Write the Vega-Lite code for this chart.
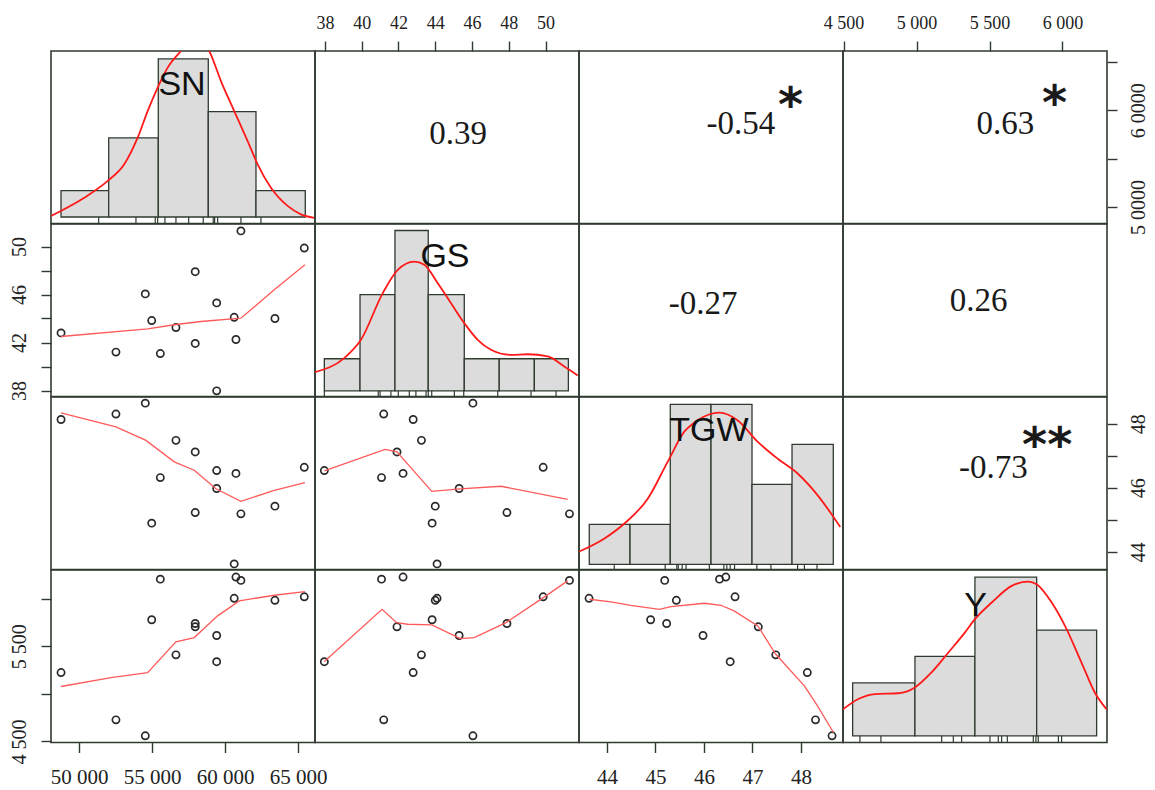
{
"$schema":"https://vega.github.io/schema/vega-lite/v6.json",
"background":"white",
"padding":{"left":8,"top":13,"right":2,"bottom":2},
"columns":4,"spacing":0,"bounds":"flush",
"datasets":{
"obs":[
{"id":"A","SN":59430,"GS":37.97,"TGW":46.54,"Y":5337},
{"id":"B","SN":52530,"GS":41.2,"TGW":48.3,"Y":4727},
{"id":"C","SN":55570,"GS":41.08,"TGW":46.32,"Y":6203},
{"id":"D","SN":57960,"GS":41.92,"TGW":47.12,"Y":5703},
{"id":"E","SN":60750,"GS":42.25,"TGW":46.45,"Y":6225},
{"id":"F","SN":48770,"GS":42.8,"TGW":48.13,"Y":5223},
{"id":"G","SN":56640,"GS":43.25,"TGW":47.48,"Y":5409},
{"id":"H","SN":54980,"GS":43.83,"TGW":44.9,"Y":5777},
{"id":"I","SN":63420,"GS":44.0,"TGW":45.43,"Y":5981},
{"id":"J","SN":60630,"GS":44.1,"TGW":43.63,"Y":6002},
{"id":"K","SN":59430,"GS":45.3,"TGW":45.98,"Y":5612},
{"id":"L","SN":54540,"GS":46.05,"TGW":48.64,"Y":4560},
{"id":"M","SN":57960,"GS":47.9,"TGW":45.23,"Y":5738},
{"id":"N","SN":65430,"GS":49.87,"TGW":46.64,"Y":6018},
{"id":"O","SN":61090,"GS":51.3,"TGW":45.19,"Y":6190}],
"smooth":[
{"pair":"GS~SN","SN":48765,"GS":42.5},{"pair":"GS~SN","SN":54702,"GS":43.14},{"pair":"GS~SN","SN":56524,"GS":43.48},{"pair":"GS~SN","SN":58352,"GS":43.75},{"pair":"GS~SN","SN":61091,"GS":44.03},{"pair":"GS~SN","SN":63372,"GS":46.39},{"pair":"GS~SN","SN":65474,"GS":48.48},
{"pair":"TGW~SN","SN":48765,"TGW":48.34},{"pair":"TGW~SN","SN":52531,"TGW":47.9},{"pair":"TGW~SN","SN":54586,"TGW":47.48},{"pair":"TGW~SN","SN":56524,"TGW":46.81},{"pair":"TGW~SN","SN":57893,"TGW":46.55},{"pair":"TGW~SN","SN":59379,"TGW":45.97},{"pair":"TGW~SN","SN":61091,"TGW":45.58},{"pair":"TGW~SN","SN":63372,"TGW":45.92},{"pair":"TGW~SN","SN":65474,"TGW":46.16},
{"pair":"Y~SN","SN":48765,"Y":5077},{"pair":"Y~SN","SN":52189,"Y":5171},{"pair":"Y~SN","SN":54702,"Y":5223},{"pair":"Y~SN","SN":56640,"Y":5545},{"pair":"Y~SN","SN":57893,"Y":5590},{"pair":"Y~SN","SN":59495,"Y":5818},{"pair":"Y~SN","SN":60975,"Y":5975},{"pair":"Y~SN","SN":63372,"Y":6034},{"pair":"Y~SN","SN":65474,"Y":6072},
{"pair":"TGW~GS","GS":37.97,"TGW":46.53},{"pair":"TGW~GS","GS":41.27,"TGW":47.2},{"pair":"TGW~GS","GS":41.92,"TGW":47.12},{"pair":"TGW~GS","GS":43.81,"TGW":45.89},{"pair":"TGW~GS","GS":45.36,"TGW":45.97},{"pair":"TGW~GS","GS":47.58,"TGW":46.05},{"pair":"TGW~GS","GS":51.2,"TGW":45.64},
{"pair":"Y~GS","GS":37.97,"Y":5339},{"pair":"Y~GS","GS":41.11,"Y":5887},{"pair":"Y~GS","GS":41.9,"Y":5747},{"pair":"Y~GS","GS":42.5,"Y":5730},{"pair":"Y~GS","GS":43.82,"Y":5723},{"pair":"Y~GS","GS":45.36,"Y":5580},{"pair":"Y~GS","GS":46.12,"Y":5590},{"pair":"Y~GS","GS":47.85,"Y":5747},{"pair":"Y~GS","GS":49.88,"Y":6009},{"pair":"Y~GS","GS":51.2,"Y":6185},
{"pair":"Y~TGW","TGW":43.64,"Y":5992},{"pair":"Y~TGW","TGW":44.08,"Y":5964},{"pair":"Y~TGW","TGW":44.49,"Y":5929},{"pair":"Y~TGW","TGW":45.08,"Y":5887},{"pair":"Y~TGW","TGW":45.32,"Y":5915},{"pair":"Y~TGW","TGW":46.01,"Y":5950},{"pair":"Y~TGW","TGW":46.35,"Y":5929},{"pair":"Y~TGW","TGW":46.62,"Y":5870},{"pair":"Y~TGW","TGW":47.11,"Y":5713},{"pair":"Y~TGW","TGW":47.48,"Y":5415},{"pair":"Y~TGW","TGW":48.07,"Y":5084},{"pair":"Y~TGW","TGW":48.34,"Y":4874},{"pair":"Y~TGW","TGW":48.67,"Y":4594}],
"hist":[
{"var":"SN","lo":48767,"hi":52034,"n":1},{"var":"SN","lo":52034,"hi":55431,"n":3},{"var":"SN","lo":55431,"hi":58855,"n":6},{"var":"SN","lo":58855,"hi":62122,"n":4},{"var":"SN","lo":62122,"hi":65499,"n":1},
{"var":"GS","lo":37.97,"hi":39.91,"n":1},{"var":"GS","lo":39.91,"hi":41.81,"n":3},{"var":"GS","lo":41.81,"hi":43.62,"n":5},{"var":"GS","lo":43.62,"hi":45.58,"n":3},{"var":"GS","lo":45.58,"hi":47.48,"n":1},{"var":"GS","lo":47.48,"hi":49.39,"n":1},{"var":"GS","lo":49.39,"hi":51.24,"n":1},
{"var":"TGW","lo":43.635,"hi":44.475,"n":1},{"var":"TGW","lo":44.475,"hi":45.305,"n":1},{"var":"TGW","lo":45.305,"hi":46.145,"n":4},{"var":"TGW","lo":46.145,"hi":46.99,"n":4},{"var":"TGW","lo":46.99,"hi":47.815,"n":2},{"var":"TGW","lo":47.815,"hi":48.666,"n":3},
{"var":"Y","lo":4562,"hi":4989,"n":2},{"var":"Y","lo":4989,"hi":5400,"n":3},{"var":"Y","lo":5400,"hi":5823,"n":6},{"var":"Y","lo":5823,"hi":6234,"n":4}],
"dens":[
{"var":"SN","v":48082,"n":0.04},{"var":"SN","v":50360,"n":0.73},{"var":"SN","v":51963,"n":1.37},{"var":"SN","v":53100,"n":2.0},{"var":"SN","v":54017,"n":3.01},{"var":"SN","v":54702,"n":4.02},{"var":"SN","v":55387,"n":4.91},{"var":"SN","v":56072,"n":5.67},{"var":"SN","v":56982,"n":6.3},{"var":"SN","v":57941,"n":6.85},{"var":"SN","v":58920,"n":6.3},{"var":"SN","v":59722,"n":5.16},{"var":"SN","v":60632,"n":4.02},{"var":"SN","v":61550,"n":2.88},{"var":"SN","v":62235,"n":2.0},{"var":"SN","v":63146,"n":1.11},{"var":"SN","v":64289,"n":0.42},{"var":"SN","v":65200,"n":0.1},{"var":"SN","v":66111,"n":-0.03},
{"var":"GS","v":37.46,"n":0.58},{"var":"GS","v":39.05,"n":1.02},{"var":"GS","v":39.96,"n":1.59},{"var":"GS","v":41.14,"n":3.04},{"var":"GS","v":41.96,"n":3.77},{"var":"GS","v":42.86,"n":4.03},{"var":"GS","v":43.41,"n":3.93},{"var":"GS","v":44.13,"n":3.36},{"var":"GS","v":44.86,"n":2.73},{"var":"GS","v":45.58,"n":2.11},{"var":"GS","v":46.31,"n":1.59},{"var":"GS","v":47.03,"n":1.28},{"var":"GS","v":48.12,"n":1.12},{"var":"GS","v":49.03,"n":1.14},{"var":"GS","v":50.12,"n":1.07},{"var":"GS","v":51.02,"n":0.76},{"var":"GS","v":51.75,"n":0.48},
{"var":"TGW","v":43.41,"n":0.31},{"var":"TGW","v":43.94,"n":0.64},{"var":"TGW","v":44.36,"n":1.02},{"var":"TGW","v":44.84,"n":1.64},{"var":"TGW","v":45.25,"n":2.56},{"var":"TGW","v":45.59,"n":3.31},{"var":"TGW","v":45.87,"n":3.6},{"var":"TGW","v":46.32,"n":3.79},{"var":"TGW","v":46.69,"n":3.6},{"var":"TGW","v":47.11,"n":3.06},{"var":"TGW","v":47.52,"n":2.64},{"var":"TGW","v":47.93,"n":2.27},{"var":"TGW","v":48.34,"n":1.73},{"var":"TGW","v":48.62,"n":1.27},{"var":"TGW","v":48.81,"n":0.93},
{"var":"Y","v":4496,"n":1.0},{"var":"Y","v":4601,"n":1.39},{"var":"Y","v":4715,"n":1.58},{"var":"Y","v":4875,"n":1.61},{"var":"Y","v":4989,"n":1.83},{"var":"Y","v":5103,"n":2.4},{"var":"Y","v":5218,"n":3.15},{"var":"Y","v":5332,"n":3.91},{"var":"Y","v":5400,"n":4.41},{"var":"Y","v":5515,"n":5.04},{"var":"Y","v":5652,"n":5.67},{"var":"Y","v":5766,"n":5.83},{"var":"Y","v":5823,"n":5.73},{"var":"Y","v":5926,"n":5.04},{"var":"Y","v":6017,"n":4.16},{"var":"Y","v":6131,"n":2.76},{"var":"Y","v":6222,"n":1.63},{"var":"Y","v":6303,"n":1.0}],
"rug":[
{"var":"SN","v":51347},{"var":"SN","v":53901},{"var":"SN","v":55222},{"var":"SN","v":55387},{"var":"SN","v":55887},{"var":"SN","v":56640},{"var":"SN","v":57510},{"var":"SN","v":58510},{"var":"SN","v":59194},{"var":"SN","v":59290},{"var":"SN","v":59496},{"var":"SN","v":61091},{"var":"SN","v":62461},
{"var":"GS","v":37.97},{"var":"GS","v":40.9},{"var":"GS","v":41.0},{"var":"GS","v":41.59},{"var":"GS","v":41.99},{"var":"GS","v":42.59},{"var":"GS","v":42.95},{"var":"GS","v":43.5},{"var":"GS","v":43.62},{"var":"GS","v":43.81},{"var":"GS","v":45.04},{"var":"GS","v":45.55},{"var":"GS","v":47.4},{"var":"GS","v":49.21},{"var":"GS","v":50.57},
{"var":"TGW","v":44.15},{"var":"TGW","v":45.2},{"var":"TGW","v":45.44},{"var":"TGW","v":45.47},{"var":"TGW","v":45.55},{"var":"TGW","v":45.63},{"var":"TGW","v":46.11},{"var":"TGW","v":46.41},{"var":"TGW","v":46.47},{"var":"TGW","v":46.54},{"var":"TGW","v":46.63},{"var":"TGW","v":47.09},{"var":"TGW","v":47.38},{"var":"TGW","v":47.93},{"var":"TGW","v":48.07},{"var":"TGW","v":48.33},
{"var":"Y","v":4612},{"var":"Y","v":4756},{"var":"Y","v":5172},{"var":"Y","v":5252},{"var":"Y","v":5309},{"var":"Y","v":5503},{"var":"Y","v":5560},{"var":"Y","v":5583},{"var":"Y","v":5622},{"var":"Y","v":5800},{"var":"Y","v":5818},{"var":"Y","v":5834},{"var":"Y","v":5972},{"var":"Y","v":5994}],
"vars":[{"var":"SN"},{"var":"GS"},{"var":"TGW"},{"var":"Y"}],
"corr":[
{"pair":"SN~GS","r":"0.39","stars":""},
{"pair":"SN~TGW","r":"-0.54","stars":"*"},
{"pair":"SN~Y","r":"0.63","stars":"*"},
{"pair":"GS~TGW","r":"-0.27","stars":""},
{"pair":"GS~Y","r":"0.26","stars":""},
{"pair":"TGW~Y","r":"-0.73","stars":"**"}]
},
"concat":[
{"width":264,"height":172.5,"layer":[
 {"data":{"name":"hist"},"transform":[{"filter":"datum.var == 'SN'"}],"mark":{"type":"rect","fill":"#dcdcdc","stroke":"#2f3b2f","strokeWidth":1.3},
  "encoding":{"x":{"field":"lo","type":"quantitative","scale":{"domain":[48082,66164],"nice":false,"zero":false},"axis":null},"x2":{"field":"hi"},"y":{"field":"n","type":"quantitative","scale":{"domain":[-0.247,6.3],"nice":false,"zero":false},"axis":null},"y2":{"datum":0}}},
 {"data":{"name":"rug"},"transform":[{"filter":"datum.var == 'SN'"}],"mark":{"type":"rule","color":"#2f3b2f","strokeWidth":1.2},
  "encoding":{"x":{"field":"v","type":"quantitative","scale":{"domain":[48082,66164],"nice":false,"zero":false},"axis":null},"y":{"datum":0,"type":"quantitative","scale":{"domain":[-0.247,6.3],"nice":false,"zero":false},"axis":null},"y2":{"datum":-0.247}}},
 {"data":{"name":"dens"},"transform":[{"filter":"datum.var == 'SN'"}],"mark":{"type":"line","color":"#ff1a1a","strokeWidth":1.8,"clip":true,"interpolate":"monotone"},
  "encoding":{"x":{"field":"v","type":"quantitative","scale":{"domain":[48082,66164],"nice":false,"zero":false},"axis":null},"y":{"field":"n","type":"quantitative","scale":{"domain":[-0.247,6.3],"nice":false,"zero":false},"axis":null}}},
 {"data":{"name":"vars"},"transform":[{"filter":"datum.var == 'SN'"}],"mark":{"type":"text","font":"Liberation Sans","fontSize":34,"color":"#111111","align":"center","baseline":"middle"},
  "encoding":{"x":{"datum":57054,"type":"quantitative","scale":{"domain":[48082,66164],"nice":false,"zero":false},"axis":null},"y":{"datum":5.01,"type":"quantitative","scale":{"domain":[-0.247,6.3],"nice":false,"zero":false},"axis":null},"text":{"field":"var"}}}
]},
{"width":264,"height":172.5,"data":{"name":"corr"},"transform":[{"filter":"datum.pair == 'SN~GS'"}],"layer":[
 {"mark":{"type":"text","font":"Liberation Serif","fontSize":33,"color":"#1a1a1a","align":"center","baseline":"middle"},
  "encoding":{"x":{"datum":45.24,"type":"quantitative","scale":{"domain":[37.462,51.818],"nice":false,"zero":false},"axis":{"orient":"top","values":[38,40,42,44,46,48,50],"labelFontSize":18,"labelPadding":9,"title":null}},"y":{"datum":57603,"type":"quantitative","scale":{"domain":[48293,66138],"nice":false,"zero":false},"axis":null},"text":{"field":"r"}}}
]},
{"width":264,"height":172.5,"data":{"name":"corr"},"transform":[{"filter":"datum.pair == 'SN~TGW'"}],"layer":[
 {"mark":{"type":"text","font":"Liberation Serif","fontSize":33,"color":"#1a1a1a","align":"center","baseline":"middle"},
  "encoding":{"x":{"datum":46.763,"type":"quantitative","scale":{"domain":[43.423,48.866],"nice":false,"zero":false},"axis":null},"y":{"datum":58555,"type":"quantitative","scale":{"domain":[48293,66138],"nice":false,"zero":false},"axis":null},"text":{"field":"r"}}},
 {"mark":{"type":"text","font":"DejaVu Sans","fontWeight":"bold","fontSize":48,"color":"#1a1a1a","align":"center","baseline":"middle"},
  "encoding":{"x":{"datum":47.786,"type":"quantitative","scale":{"domain":[43.423,48.866],"nice":false,"zero":false},"axis":null},"y":{"datum":60300,"type":"quantitative","scale":{"domain":[48293,66138],"nice":false,"zero":false},"axis":null},"text":{"field":"stars"}}}
]},
{"width":264,"height":172.5,"data":{"name":"corr"},"transform":[{"filter":"datum.pair == 'SN~Y'"}],"layer":[
 {"mark":{"type":"text","font":"Liberation Serif","fontSize":33,"color":"#1a1a1a","align":"center","baseline":"middle"},
  "encoding":{"x":{"datum":5608,"type":"quantitative","scale":{"domain":[4496,6305],"nice":false,"zero":false},"axis":{"orient":"top","values":[4500,5000,5500,6000],"labelExpr":"replace(format(datum.value, ','), ',', ' ')","labelFontSize":18,"labelPadding":9,"title":null}},"y":{"datum":58586,"type":"quantitative","scale":{"domain":[48293,66138],"nice":false,"zero":false},"axis":{"orient":"right","values":[50000,55000,60000,65000],"labelExpr":"datum.value % 10000 == 0 ? format(datum.value / 10000, 'd') + ' 0000' : ''","labelAngle":270,"labelAlign":"center","labelBaseline":"top","labelFontSize":20,"labelPadding":11,"title":null}},"text":{"field":"r"}}},
 {"mark":{"type":"text","font":"DejaVu Sans","fontWeight":"bold","fontSize":48,"color":"#1a1a1a","align":"center","baseline":"middle"},
  "encoding":{"x":{"datum":5946,"type":"quantitative","scale":{"domain":[4496,6305],"nice":false,"zero":false},"axis":{"orient":"top","values":[4500,5000,5500,6000],"labelExpr":"replace(format(datum.value, ','), ',', ' ')","labelFontSize":18,"labelPadding":9,"title":null}},"y":{"datum":60550,"type":"quantitative","scale":{"domain":[48293,66138],"nice":false,"zero":false},"axis":{"orient":"right","values":[50000,55000,60000,65000],"labelExpr":"datum.value % 10000 == 0 ? format(datum.value / 10000, 'd') + ' 0000' : ''","labelAngle":270,"labelAlign":"center","labelBaseline":"top","labelFontSize":20,"labelPadding":11,"title":null}},"text":{"field":"stars"}}}
]},
{"width":264,"height":172.5,
 "encoding":{"x":{"field":"SN","type":"quantitative","scale":{"domain":[48082,66164],"nice":false,"zero":false},"axis":null},"y":{"field":"GS","type":"quantitative","scale":{"domain":[37.5,51.875],"nice":false,"zero":false},"axis":{"orient":"left","values":[38,40,42,44,46,48,50],"labelExpr":"datum.value % 4 == 2 ? datum.label : ''","labelAngle":270,"labelAlign":"center","labelBaseline":"bottom","labelFontSize":20,"labelPadding":12,"title":null}}},
 "layer":[
 {"data":{"name":"obs"},"mark":{"type":"point","shape":"circle","filled":false,"size":52,"strokeWidth":1.7,"color":"#2a2a2a","opacity":1}},
 {"data":{"name":"smooth"},"transform":[{"filter":"datum.pair == 'GS~SN'"}],"mark":{"type":"line","color":"#ff5a5a","strokeWidth":1.3}}
]},
{"width":264,"height":172.5,"layer":[
 {"data":{"name":"hist"},"transform":[{"filter":"datum.var == 'GS'"}],"mark":{"type":"rect","fill":"#dcdcdc","stroke":"#2f3b2f","strokeWidth":1.3},
  "encoding":{"x":{"field":"lo","type":"quantitative","scale":{"domain":[37.462,51.818],"nice":false,"zero":false},"axis":null},"x2":{"field":"hi"},"y":{"field":"n","type":"quantitative","scale":{"domain":[-0.178,5.203],"nice":false,"zero":false},"axis":null},"y2":{"datum":0}}},
 {"data":{"name":"rug"},"transform":[{"filter":"datum.var == 'GS'"}],"mark":{"type":"rule","color":"#2f3b2f","strokeWidth":1.2},
  "encoding":{"x":{"field":"v","type":"quantitative","scale":{"domain":[37.462,51.818],"nice":false,"zero":false},"axis":null},"y":{"datum":0,"type":"quantitative","scale":{"domain":[-0.178,5.203],"nice":false,"zero":false},"axis":null},"y2":{"datum":-0.178}}},
 {"data":{"name":"dens"},"transform":[{"filter":"datum.var == 'GS'"}],"mark":{"type":"line","color":"#ff1a1a","strokeWidth":1.8,"clip":true,"interpolate":"monotone"},
  "encoding":{"x":{"field":"v","type":"quantitative","scale":{"domain":[37.462,51.818],"nice":false,"zero":false},"axis":null},"y":{"field":"n","type":"quantitative","scale":{"domain":[-0.178,5.203],"nice":false,"zero":false},"axis":null}}},
 {"data":{"name":"vars"},"transform":[{"filter":"datum.var == 'GS'"}],"mark":{"type":"text","font":"Liberation Sans","fontSize":34,"color":"#111111","align":"center","baseline":"middle"},
  "encoding":{"x":{"datum":44.53,"type":"quantitative","scale":{"domain":[37.462,51.818],"nice":false,"zero":false},"axis":null},"y":{"datum":4.16,"type":"quantitative","scale":{"domain":[-0.178,5.203],"nice":false,"zero":false},"axis":null},"text":{"field":"var"}}}
]},
{"width":264,"height":172.5,"data":{"name":"corr"},"transform":[{"filter":"datum.pair == 'GS~TGW'"}],"layer":[
 {"mark":{"type":"text","font":"Liberation Serif","fontSize":33,"color":"#1a1a1a","align":"center","baseline":"middle"},
  "encoding":{"x":{"datum":45.98,"type":"quantitative","scale":{"domain":[43.423,48.866],"nice":false,"zero":false},"axis":null},"y":{"datum":45.25,"type":"quantitative","scale":{"domain":[37.5,51.875],"nice":false,"zero":false},"axis":null},"text":{"field":"r"}}}
]},
{"width":264,"height":172.5,"data":{"name":"corr"},"transform":[{"filter":"datum.pair == 'GS~Y'"}],"layer":[
 {"mark":{"type":"text","font":"Liberation Serif","fontSize":33,"color":"#1a1a1a","align":"center","baseline":"middle"},
  "encoding":{"x":{"datum":5425,"type":"quantitative","scale":{"domain":[4496,6305],"nice":false,"zero":false},"axis":null},"y":{"datum":45.42,"type":"quantitative","scale":{"domain":[37.5,51.875],"nice":false,"zero":false},"axis":null},"text":{"field":"r"}}}
]},
{"width":264,"height":172.5,
 "encoding":{"x":{"field":"SN","type":"quantitative","scale":{"domain":[48082,66164],"nice":false,"zero":false},"axis":null},"y":{"field":"TGW","type":"quantitative","scale":{"domain":[43.455,48.832],"nice":false,"zero":false},"axis":null}},
 "layer":[
 {"data":{"name":"obs"},"mark":{"type":"point","shape":"circle","filled":false,"size":52,"strokeWidth":1.7,"color":"#2a2a2a","opacity":1}},
 {"data":{"name":"smooth"},"transform":[{"filter":"datum.pair == 'TGW~SN'"}],"mark":{"type":"line","color":"#ff5a5a","strokeWidth":1.3}}
]},
{"width":264,"height":172.5,
 "encoding":{"x":{"field":"GS","type":"quantitative","scale":{"domain":[37.462,51.818],"nice":false,"zero":false},"axis":null},"y":{"field":"TGW","type":"quantitative","scale":{"domain":[43.455,48.832],"nice":false,"zero":false},"axis":null}},
 "layer":[
 {"data":{"name":"obs"},"mark":{"type":"point","shape":"circle","filled":false,"size":52,"strokeWidth":1.7,"color":"#2a2a2a","opacity":1}},
 {"data":{"name":"smooth"},"transform":[{"filter":"datum.pair == 'TGW~GS'"}],"mark":{"type":"line","color":"#ff5a5a","strokeWidth":1.3}}
]},
{"width":264,"height":172.5,"layer":[
 {"data":{"name":"hist"},"transform":[{"filter":"datum.var == 'TGW'"}],"mark":{"type":"rect","fill":"#dcdcdc","stroke":"#2f3b2f","strokeWidth":1.3},
  "encoding":{"x":{"field":"lo","type":"quantitative","scale":{"domain":[43.423,48.866],"nice":false,"zero":false},"axis":null},"x2":{"field":"hi"},"y":{"field":"n","type":"quantitative","scale":{"domain":[-0.13,4.183],"nice":false,"zero":false},"axis":null},"y2":{"datum":0}}},
 {"data":{"name":"rug"},"transform":[{"filter":"datum.var == 'TGW'"}],"mark":{"type":"rule","color":"#2f3b2f","strokeWidth":1.2},
  "encoding":{"x":{"field":"v","type":"quantitative","scale":{"domain":[43.423,48.866],"nice":false,"zero":false},"axis":null},"y":{"datum":0,"type":"quantitative","scale":{"domain":[-0.13,4.183],"nice":false,"zero":false},"axis":null},"y2":{"datum":-0.13}}},
 {"data":{"name":"dens"},"transform":[{"filter":"datum.var == 'TGW'"}],"mark":{"type":"line","color":"#ff1a1a","strokeWidth":1.8,"clip":true,"interpolate":"monotone"},
  "encoding":{"x":{"field":"v","type":"quantitative","scale":{"domain":[43.423,48.866],"nice":false,"zero":false},"axis":null},"y":{"field":"n","type":"quantitative","scale":{"domain":[-0.13,4.183],"nice":false,"zero":false},"axis":null}}},
 {"data":{"name":"vars"},"transform":[{"filter":"datum.var == 'TGW'"}],"mark":{"type":"text","font":"Liberation Sans","fontSize":34,"color":"#111111","align":"center","baseline":"middle"},
  "encoding":{"x":{"datum":46.103,"type":"quantitative","scale":{"domain":[43.423,48.866],"nice":false,"zero":false},"axis":null},"y":{"datum":3.33,"type":"quantitative","scale":{"domain":[-0.13,4.183],"nice":false,"zero":false},"axis":null},"text":{"field":"var"}}}
]},
{"width":264,"height":172.5,"data":{"name":"corr"},"transform":[{"filter":"datum.pair == 'TGW~Y'"}],"layer":[
 {"mark":{"type":"text","font":"Liberation Serif","fontSize":33,"color":"#1a1a1a","align":"center","baseline":"middle"},
  "encoding":{"x":{"datum":5526,"type":"quantitative","scale":{"domain":[4496,6305],"nice":false,"zero":false},"axis":null},"y":{"datum":46.62,"type":"quantitative","scale":{"domain":[43.455,48.832],"nice":false,"zero":false},"axis":{"orient":"right","values":[44,45,46,47,48],"labelExpr":"datum.value % 2 == 0 ? datum.label : ''","labelAngle":270,"labelAlign":"center","labelBaseline":"top","labelFontSize":20,"labelPadding":11,"title":null}},"text":{"field":"r"}}},
 {"mark":{"type":"text","font":"DejaVu Sans","fontWeight":"bold","fontSize":48,"color":"#1a1a1a","align":"center","baseline":"middle"},
  "encoding":{"x":{"datum":5895,"type":"quantitative","scale":{"domain":[4496,6305],"nice":false,"zero":false},"axis":null},"y":{"datum":47.28,"type":"quantitative","scale":{"domain":[43.455,48.832],"nice":false,"zero":false},"axis":{"orient":"right","values":[44,45,46,47,48],"labelExpr":"datum.value % 2 == 0 ? datum.label : ''","labelAngle":270,"labelAlign":"center","labelBaseline":"top","labelFontSize":20,"labelPadding":11,"title":null}},"text":{"field":"stars"}}}
]},
{"width":264,"height":172.5,
 "encoding":{"x":{"field":"SN","type":"quantitative","scale":{"domain":[48082,66164],"nice":false,"zero":false},"axis":{"orient":"bottom","values":[50000,55000,60000,65000],"labelExpr":"replace(format(datum.value, ','), ',', ' ')","labelFontSize":21,"labelPadding":14,"title":null}},"y":{"field":"Y","type":"quantitative","scale":{"domain":[4489.5,6299],"nice":false,"zero":false},"axis":{"orient":"left","values":[4500,5000,5500,6000],"labelExpr":"datum.value % 1000 == 500 ? replace(format(datum.value, ','), ',', ' ') : ''","labelAngle":270,"labelAlign":"center","labelBaseline":"bottom","labelFontSize":20,"labelPadding":12,"title":null}}},
 "layer":[
 {"data":{"name":"obs"},"mark":{"type":"point","shape":"circle","filled":false,"size":52,"strokeWidth":1.7,"color":"#2a2a2a","opacity":1}},
 {"data":{"name":"smooth"},"transform":[{"filter":"datum.pair == 'Y~SN'"}],"mark":{"type":"line","color":"#ff5a5a","strokeWidth":1.3}}
]},
{"width":264,"height":172.5,
 "encoding":{"x":{"field":"GS","type":"quantitative","scale":{"domain":[37.462,51.818],"nice":false,"zero":false},"axis":null},"y":{"field":"Y","type":"quantitative","scale":{"domain":[4489.5,6299],"nice":false,"zero":false},"axis":null}},
 "layer":[
 {"data":{"name":"obs"},"mark":{"type":"point","shape":"circle","filled":false,"size":52,"strokeWidth":1.7,"color":"#2a2a2a","opacity":1}},
 {"data":{"name":"smooth"},"transform":[{"filter":"datum.pair == 'Y~GS'"}],"mark":{"type":"line","color":"#ff5a5a","strokeWidth":1.3}}
]},
{"width":264,"height":172.5,
 "encoding":{"x":{"field":"TGW","type":"quantitative","scale":{"domain":[43.423,48.866],"nice":false,"zero":false},"axis":{"orient":"bottom","values":[44,45,46,47,48],"labelFontSize":21,"labelPadding":14,"title":null}},"y":{"field":"Y","type":"quantitative","scale":{"domain":[4489.5,6299],"nice":false,"zero":false},"axis":null}},
 "layer":[
 {"data":{"name":"obs"},"mark":{"type":"point","shape":"circle","filled":false,"size":52,"strokeWidth":1.7,"color":"#2a2a2a","opacity":1}},
 {"data":{"name":"smooth"},"transform":[{"filter":"datum.pair == 'Y~TGW'"}],"mark":{"type":"line","color":"#ff5a5a","strokeWidth":1.3}}
]},
{"width":264,"height":172.5,"layer":[
 {"data":{"name":"hist"},"transform":[{"filter":"datum.var == 'Y'"}],"mark":{"type":"rect","fill":"#dcdcdc","stroke":"#2f3b2f","strokeWidth":1.3},
  "encoding":{"x":{"field":"lo","type":"quantitative","scale":{"domain":[4496,6305],"nice":false,"zero":false},"axis":null},"x2":{"field":"hi"},"y":{"field":"n","type":"quantitative","scale":{"domain":[-0.253,6.27],"nice":false,"zero":false},"axis":null},"y2":{"datum":0}}},
 {"data":{"name":"rug"},"transform":[{"filter":"datum.var == 'Y'"}],"mark":{"type":"rule","color":"#2f3b2f","strokeWidth":1.2},
  "encoding":{"x":{"field":"v","type":"quantitative","scale":{"domain":[4496,6305],"nice":false,"zero":false},"axis":null},"y":{"datum":0,"type":"quantitative","scale":{"domain":[-0.253,6.27],"nice":false,"zero":false},"axis":null},"y2":{"datum":-0.253}}},
 {"data":{"name":"dens"},"transform":[{"filter":"datum.var == 'Y'"}],"mark":{"type":"line","color":"#ff1a1a","strokeWidth":1.8,"clip":true,"interpolate":"monotone"},
  "encoding":{"x":{"field":"v","type":"quantitative","scale":{"domain":[4496,6305],"nice":false,"zero":false},"axis":null},"y":{"field":"n","type":"quantitative","scale":{"domain":[-0.253,6.27],"nice":false,"zero":false},"axis":null}}},
 {"data":{"name":"vars"},"transform":[{"filter":"datum.var == 'Y'"}],"mark":{"type":"text","font":"Liberation Sans","fontSize":34,"color":"#111111","align":"center","baseline":"middle"},
  "encoding":{"x":{"datum":5405,"type":"quantitative","scale":{"domain":[4496,6305],"nice":false,"zero":false},"axis":null},"y":{"datum":4.89,"type":"quantitative","scale":{"domain":[-0.253,6.27],"nice":false,"zero":false},"axis":null},"text":{"field":"var"}}}
]}
],
"resolve":{"scale":{"x":"independent","y":"independent"}},
"config":{
 "view":{"stroke":"#2f3b2f","strokeWidth":1.6},
 "axis":{"domain":false,"grid":false,"ticks":true,"tickColor":"#2f3b2f","tickSize":10,"tickWidth":1.4,"labelFont":"Liberation Serif","labelColor":"#222222","labelFlush":false,"labelOverlap":false}
}
}
